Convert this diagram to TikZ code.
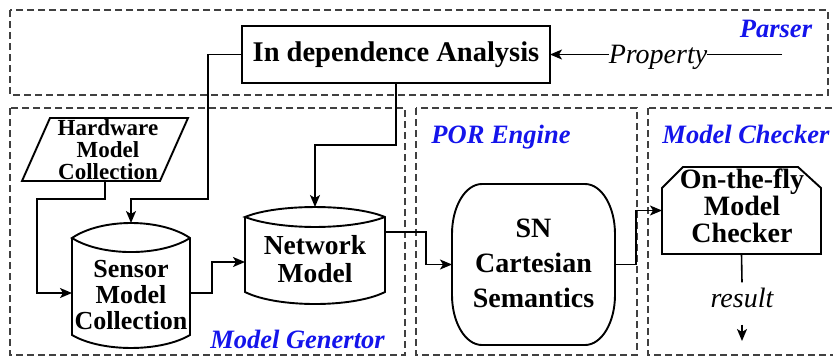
\documentclass[tikz,border=0pt]{standalone}
\usepackage{fontspec}
\setmainfont{Liberation Serif}
\usetikzlibrary{arrows.meta,calc}
\definecolor{lblblue}{RGB}{20,20,235}

\begin{document}
\begin{tikzpicture}[x=1pt,y=-1pt,
  frame/.style={draw=black!75, line width=1.2pt, dash pattern=on 7pt off 4pt},
  outline/.style={draw=black, line width=1.9pt, line join=miter},
  holder/.style={inner sep=0pt, outer sep=0pt},
  conn/.style={draw=black, line width=1.6pt},
  arr/.style={conn, -{Stealth[length=12pt,width=10pt,inset=3pt]}},
  btxt/.style 2 args={font=\bfseries\fontsize{#1}{#2}\selectfont, align=center, inner sep=0pt},
  lab/.style={font=\bfseries\itshape\fontsize{26.5}{26.5}\selectfont, text=lblblue, inner sep=0pt, anchor=base},
  ital/.style={font=\itshape\fontsize{28}{28}\selectfont, inner sep=0pt}]

\useasboundingbox (0,0) rectangle (833,357);
\clip (0,0) rectangle (833,357);

% module frames
\draw[frame] (10,10) rectangle (828,95);
\draw[frame] (10,108) rectangle (405,355);
\draw[frame] (416,108) rectangle (637,355);
\draw[frame] (648,108) rectangle (845,355);

% module titles
\node[lab] (tparser) at (776,37) {Parser};
\node[lab] (tpor) at (501,143) {POR Engine};
\node[lab] (tmc) at (746,143) {Model Checker};
\node[lab] (tmg) at (297.5,348) {Model Genertor};

% independence analysis box and the property input
\node[outline, holder, minimum width=308pt, minimum height=57pt,
      font=\bfseries\fontsize{28.5}{28.5}\selectfont] (ida) at (396,54.5) {In dependence Analysis};
\node[ital, anchor=base] (prop) at (658,63) {Property};
\coordinate (propsrc) at (782,54.5);

% hardware model collection (parallelogram)
\node[holder, minimum width=166pt, minimum height=63pt] (hw) at (105,149.5) {};
\draw[outline] ([xshift=28pt]hw.north west) -- (hw.north east)
  -- ([xshift=-28pt]hw.south east) -- (hw.south west) -- cycle;
\node[btxt={23}{22}] (hwtxt) at (108,150) {Hardware\\Model\\Collection};

% sensor model collection (cylinder)
\node[holder, minimum width=118pt, minimum height=125pt] (sensor) at (131,285.5) {};
\begin{scope}[shift={(sensor.center)}]
  \draw[outline] (-59,-47.5) -- (-59,49.5)
    .. controls (-29.5,66.8) and (29.5,66.8) .. (59,49.5) -- (59,-47.5)
    .. controls (29.5,-67.5) and (-29.5,-67.5) .. (-59,-47.5)
    .. controls (-29.5,-28.8) and (29.5,-28.8) .. (59,-47.5);
\end{scope}
\node[btxt={26}{26}] (sensortxt) at (131,295) {Sensor\\Model\\Collection};

% network model
\node[holder, minimum width=140pt, minimum height=97pt] (net) at (315,255.5) {};
\begin{scope}[shift={(net.center)}]
  \draw[outline] (-70,-38.5) -- (-70,36.5)
    .. controls (-38,52.5) and (38,52.5) .. (70,36.5) -- (70,-38.5)
    .. controls (38,-51.8) and (-38,-51.8) .. (-70,-38.5)
    .. controls (-35,-25.2) and (35,-25.2) .. (70,-38.5);
\end{scope}
\node[btxt={27.5}{28}] (nettxt) at (315,259.5) {Network\\Model};

% SN Cartesian semantics (rounded block)
\node[holder, minimum width=163pt, minimum height=161pt] (sn) at (533.5,264.5) {};
\begin{scope}[shift={(sn.center)}]
  \draw[outline] (-51.5,-80.5) -- (51.5,-80.5)
    .. controls (68.1,-80.5) and (81.5,-58.1) .. (81.5,-30.5) -- (81.5,30.5)
    .. controls (81.5,58.1) and (68.1,80.5) .. (51.5,80.5) -- (-51.5,80.5)
    .. controls (-68.1,80.5) and (-81.5,58.1) .. (-81.5,30.5) -- (-81.5,-30.5)
    .. controls (-81.5,-58.1) and (-68.1,-80.5) .. (-51.5,-80.5) -- cycle;
\end{scope}
\node[btxt={28}{35}] (sntxt) at (533.5,263.5) {SN\\Cartesian\\Semantics};

% on-the-fly model checker (chamfered top)
\node[holder, minimum width=159pt, minimum height=87pt] (otf) at (741.5,210.5) {};
\begin{scope}[shift={(otf.center)}]
  \draw[outline] (-79.5,-22.5) -- (-58.5,-43.5) -- (56.5,-43.5) -- (79.5,-22.5)
    -- (79.5,43.5) -- (-79.5,43.5) -- cycle;
\end{scope}
\node[btxt={28}{27}] (otftxt) at (742,206) {On-the-fly\\Model\\Checker};

% result output
\node[ital, anchor=base] (res) at (742,307) {result};
\coordinate (resout) at (742,341);

% connectors
\draw[conn] (propsrc) -- (propsrc -| prop.east);
\draw[arr] (prop.west |- ida.east) -- (ida.east);
\draw[arr] (ida.west) -| (208,199) -| (sensor.north);
\draw[arr] (ida.south) |- (315,145) -- (net.north);
\draw[arr] (hw.south) |- (37,199) |- ([yshift=-7.5pt]sensor.west);
\draw[arr] ([yshift=-7.5pt]sensor.east) -- (212,293) |- ([yshift=-6.5pt]net.west);
\draw[arr] ([yshift=23.5pt]net.east) -- (426,232) |- (sn.west);
\draw[arr] (sn.east) -- (636,264.5) |- (otf.west);
\draw[conn] (otf.south) -- ([yshift=5pt]res.north);
\draw[arr] ([yshift=-17pt]res.south) -- (resout);

\end{tikzpicture}
\end{document}
